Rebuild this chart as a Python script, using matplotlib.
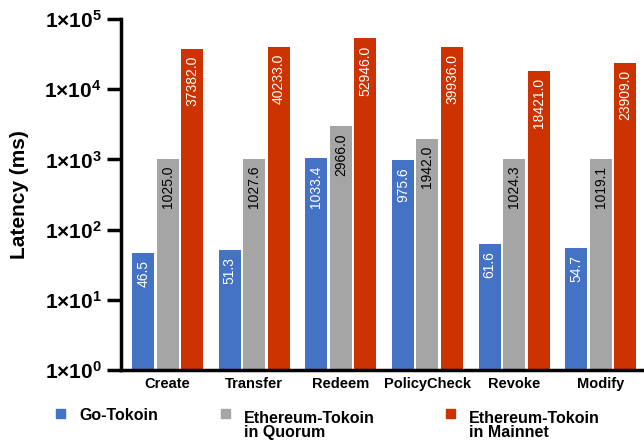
import matplotlib
matplotlib.use('Agg')
import matplotlib.pyplot as plt
from matplotlib.patches import Rectangle
from matplotlib.ticker import FuncFormatter, LogLocator, NullLocator
import numpy as np

plt.rcParams['font.family'] = ['Liberation Sans', 'DejaVu Sans']
plt.rcParams['mathtext.fontset'] = 'custom'
plt.rcParams['mathtext.rm'] = 'Liberation Sans:bold'
plt.rcParams['mathtext.it'] = 'Liberation Sans:bold'
plt.rcParams['mathtext.bf'] = 'Liberation Sans:bold'

operations = ['Create', 'Transfer', 'Redeem', 'PolicyCheck', 'Revoke', 'Modify']
go_tokoin = [46.5, 51.3, 1033.4, 975.6, 61.6, 54.7]
eth_quorum = [1025.0, 1027.6, 2966.0, 1942.0, 1024.3, 1019.1]
eth_mainnet = [37382.0, 40233.0, 52946.0, 39936.0, 18421.0, 23909.0]
series_names = ['Go-Tokoin', 'Ethereum-Tokoin\nin Quorum', 'Ethereum-Tokoin\nin Mainnet']
C = {'blue': '#4472C4', 'gray': '#A5A5A5', 'red': '#CC3300'}

W, H = 644, 440
fig = plt.figure(figsize=(W / 100, H / 100), dpi=100)
ax = fig.add_axes([121 / W, 70 / H, 1 - 121 / W, 351 / H])

x = np.arange(len(operations))
width, pitch = 0.254, 0.282
series = [(go_tokoin, C['blue'], 'white'),
          (eth_quorum, C['gray'], 'black'),
          (eth_mainnet, C['red'], 'white')]
for i, (vals, col, tcol) in enumerate(series):
    pos = x + (i - 1) * pitch
    ax.bar(pos, vals, width=width, color=col, zorder=2)
    for px, v in zip(pos, vals):
        ax.annotate(f'{v:.1f}', (px, v), xytext=(0, -5), textcoords='offset points',
                    rotation=90, ha='center', va='top', fontsize=10, color=tcol, zorder=3)

ax.set_yscale('log')
ax.set_ylim(1, 1e5)
ax.set_xlim(-0.539, 5.5)
ax.yaxis.set_major_locator(LogLocator(base=10, numticks=10))
ax.yaxis.set_minor_locator(NullLocator())
ax.yaxis.set_major_formatter(FuncFormatter(lambda v, p: rf'$1{{\times}}10^{{{int(round(np.log10(v)))}}}$'))
ax.tick_params(axis='y', length=10, width=2.5, labelsize=15, pad=4)
ax.set_xticks(x)
ax.set_xticklabels(operations, fontsize=10.5, fontweight='bold')
ax.tick_params(axis='x', length=0, pad=5)
for s in ['top', 'right']:
    ax.spines[s].set_visible(False)
for s in ['left', 'bottom']:
    ax.spines[s].set_linewidth(2.5)
ax.set_ylabel('Latency (ms)', fontsize=15, fontweight='bold', labelpad=11)

# legend, drawn by hand so the square sits on the first text line
legend_x = [(56, 79), (221, 244), (446, 469)]
for (mx, tx), name, (_, col, _) in zip(legend_x, series_names, series):
    fig.patches.append(Rectangle((mx / W, 1 - 418 / H), 9 / W, 9 / H, color=col,
                                 transform=fig.transFigure, figure=fig))
    extra = 17 * name.count('\n')
    fig.text(tx / W, 1 - (420 + extra) / H, name, fontsize=11.5, fontweight='bold',
             va='baseline', ha='left', linespacing=0.95)

fig.savefig('out.png', dpi=100)
